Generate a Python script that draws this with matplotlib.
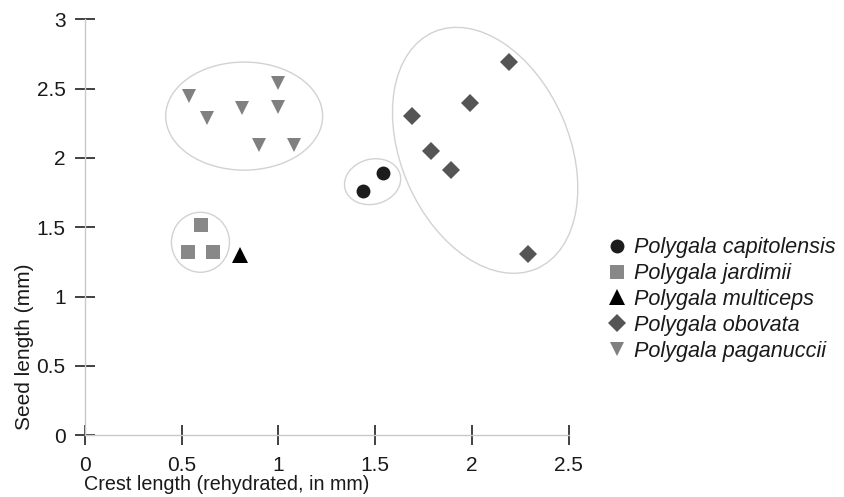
import matplotlib
matplotlib.use("Agg")
import matplotlib.pyplot as plt
from matplotlib.patches import Ellipse
from matplotlib.lines import Line2D
from matplotlib.transforms import Affine2D, ScaledTranslation

plt.rcParams['font.family'] = ['Liberation Sans', 'DejaVu Sans']

# ---- data ----
species = ["Polygala capitolensis", "Polygala jardimii", "Polygala multiceps",
           "Polygala obovata", "Polygala paganuccii"]

capitolensis_x = [1.44, 1.54]
capitolensis_y = [1.76, 1.89]

jardimii_x = [0.60, 0.53, 0.66]
jardimii_y = [1.52, 1.32, 1.32]

multiceps_x = [0.80]
multiceps_y = [1.30]

obovata_x = [2.19, 1.99, 1.69, 1.79, 1.89, 2.29]
obovata_y = [2.69, 2.40, 2.30, 2.05, 1.91, 1.31]

paganuccii_x = [0.54, 0.63, 0.81, 1.00, 1.00, 0.90, 1.08]
paganuccii_y = [2.45, 2.29, 2.36, 2.54, 2.37, 2.09, 2.09]

x_ticks = [0, 0.5, 1, 1.5, 2, 2.5]
x_tick_labels = ["0", "0.5", "1", "1.5", "2", "2.5"]
y_ticks = [0, 0.5, 1, 1.5, 2, 2.5, 3]
y_tick_labels = ["0", "0.5", "1", "1.5", "2", "2.5", "3"]

# ---- figure ----
fig = plt.figure(figsize=(8.44, 4.97), dpi=100)
ax = fig.add_axes([85/844, 1 - 435.3/497, (568.5-85)/844, (435.3-19.3)/497])
ax.set_xlim(0, 2.5)
ax.set_ylim(0, 3)

series = [
    (capitolensis_x, capitolensis_y, 'o', '#1c1c1c', 10),
    (jardimii_x, jardimii_y, 's', '#888888', 9.5),
    (multiceps_x, multiceps_y, '^', '#000000', 12),
    (obovata_x, obovata_y, 'D', '#555555', 9),
    (paganuccii_x, paganuccii_y, 'v', '#808080', 9.8),
]
handles = []
for (xs, ys, m, c, ms), name in zip(series, species):
    ax.plot(xs, ys, linestyle='none', marker=m, color=c, markersize=ms,
            markeredgewidth=0, clip_on=False, zorder=3)
    handles.append(Line2D([], [], linestyle='none', marker=m, color=c,
                          markersize=ms, markeredgewidth=0))

# ---- group ellipses (center in data units, size in points) ----
ellipses = [
    (0.823, 2.302, 113, 77.8, 0),
    (1.487, 1.829, 41, 32.4, 15),
    (0.597, 1.392, 41.8, 43.2, 0),
    (2.069, 2.055, 185.8, 121, 113.5),
]
for cx, cy, w, h, ang in ellipses:
    tr = Affine2D().scale(fig.dpi / 72.0) + ScaledTranslation(cx, cy, ax.transData)
    e = Ellipse((0, 0), w, h, angle=ang, transform=tr, fill=False,
                edgecolor='#d2d2d2', linewidth=1.0, clip_on=False, zorder=2)
    ax.add_patch(e)

# ---- axes styling ----
for s in ['top', 'right']:
    ax.spines[s].set_visible(False)
for s in ['left', 'bottom']:
    ax.spines[s].set_color('#c8c8c8')
    ax.spines[s].set_linewidth(1.0)

ax.set_xticks(x_ticks)
ax.set_xticklabels(x_tick_labels)
ax.set_yticks(y_ticks)
ax.set_yticklabels(y_tick_labels)
ax.tick_params(axis='both', direction='inout', length=14, width=1.3,
               color='#333333', labelsize=15, labelcolor='#1a1a1a')
ax.tick_params(axis='x', pad=8)
ax.tick_params(axis='y', pad=7)

fig.text(25/844, 1 - 346.5/497, "Seed length (mm)", rotation=90,
         ha='center', va='center', fontsize=15, color='#1a1a1a')
fig.text(84/844, 1 - 490/497, "Crest length (rehydrated, in mm)",
         ha='left', va='baseline', fontsize=14.2, color='#1a1a1a')

leg = fig.legend(handles, species, loc='upper left',
                 bbox_to_anchor=(606/844, 1 - 237.5/497), frameon=False,
                 prop={'style': 'italic', 'size': 15.6}, handlelength=1.0,
                 handletextpad=0.3, labelspacing=0.22, borderpad=0,
                 borderaxespad=0, labelcolor='#1a1a1a')

fig.savefig("out.png", dpi=100)
